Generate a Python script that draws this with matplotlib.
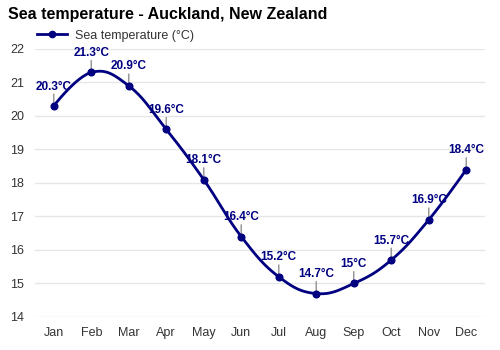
import matplotlib
matplotlib.use("Agg")
import matplotlib.pyplot as plt
import numpy as np
from matplotlib.lines import Line2D

months = ["Jan", "Feb", "Mar", "Apr", "May", "Jun",
          "Jul", "Aug", "Sep", "Oct", "Nov", "Dec"]
sea_temp = [20.3, 21.3, 20.9, 19.6, 18.1, 16.4,
            15.2, 14.7, 15.0, 15.7, 16.9, 18.4]
y_ticks = [14, 15, 16, 17, 18, 19, 20, 21, 22]

LINE_COLOR = "#000080"
LEADER_COLOR = "#999999"
GRID_COLOR = "#e6e6e6"
TEXT_COLOR = "#333333"

plt.rcParams["font.family"] = ["Liberation Sans", "DejaVu Sans"]


def spline_path(xs, ys, smoothing=1.5, steps=30):
    """Smooth curve through the points using bezier control points."""
    xs = np.asarray(xs, float)
    ys = np.asarray(ys, float)
    n = len(xs)
    left = [(xs[i], ys[i]) for i in range(n)]
    right = [(xs[i], ys[i]) for i in range(n)]
    denom = smoothing + 1
    for i in range(1, n - 1):
        lx = (smoothing * xs[i] + xs[i - 1]) / denom
        ly = (smoothing * ys[i] + ys[i - 1]) / denom
        rx = (smoothing * xs[i] + xs[i + 1]) / denom
        ry = (smoothing * ys[i] + ys[i + 1]) / denom
        corr = (ry - ly) * (rx - xs[i]) / (rx - lx) + ys[i] - ry
        left[i] = (lx, ly + corr)
        right[i] = (rx, ry + corr)
    t = np.linspace(0, 1, steps)[:, None]
    pieces = []
    for i in range(n - 1):
        p0 = np.array([xs[i], ys[i]])
        p1 = np.array(right[i])
        p2 = np.array(left[i + 1])
        p3 = np.array([xs[i + 1], ys[i + 1]])
        seg = ((1 - t) ** 3 * p0 + 3 * (1 - t) ** 2 * t * p1
               + 3 * (1 - t) * t ** 2 * p2 + t ** 3 * p3)
        pieces.append(seg if i == 0 else seg[1:])
    curve = np.vstack(pieces)
    return curve[:, 0], curve[:, 1]


fig = plt.figure(figsize=(5, 3.5), dpi=100)
ax = fig.add_axes([0.07, 0.0943, 0.9, 0.7657])

x = np.arange(len(months))
cx, cy = spline_path(x, sea_temp)
ax.plot(cx, cy, color=LINE_COLOR, linewidth=2.0, zorder=3, clip_on=False)
ax.plot(x, sea_temp, "o", color=LINE_COLOR, markersize=4.8, zorder=4,
        clip_on=False)

# value labels with short leader lines above each point
for xi, yi in zip(x, sea_temp):
    ax.annotate("", xy=(xi, yi), xytext=(0, 8.5), textcoords="offset points",
                arrowprops=dict(arrowstyle="-", color=LEADER_COLOR, lw=1.1,
                                shrinkA=0, shrinkB=0), zorder=2)
    ax.annotate(f"{yi:g}°C", xy=(xi, yi), xytext=(0, 14),
                textcoords="offset points", ha="center", va="center",
                fontsize=8.5, fontweight="bold", color=LINE_COLOR, zorder=5)

ax.set_xlim(-0.5, 11.5)
ax.set_ylim(14, 22)
ax.set_xticks(x)
ax.set_xticklabels(months)
ax.set_yticks(y_ticks)
ax.tick_params(axis="both", length=0, labelsize=9, colors=TEXT_COLOR)
ax.tick_params(axis="y", pad=8)
ax.tick_params(axis="x", pad=7)
ax.grid(axis="y", color=GRID_COLOR, linewidth=1)
ax.set_axisbelow(True)
for spine in ax.spines.values():
    spine.set_visible(False)

fig.text(0.016, 0.96, "Sea temperature - Auckland, New Zealand",
         fontsize=11.5, fontweight="bold", color="black", va="center")

handle = Line2D([], [], color=LINE_COLOR, linewidth=2.0, marker="o",
                markersize=4.5)
fig.legend([handle], ["Sea temperature (°C)"], loc="center left",
           bbox_to_anchor=(0.052, 0.898), frameon=False, fontsize=9,
           handlelength=2.4, handletextpad=0.6, labelcolor=TEXT_COLOR)

fig.savefig("out.png", dpi=100)
